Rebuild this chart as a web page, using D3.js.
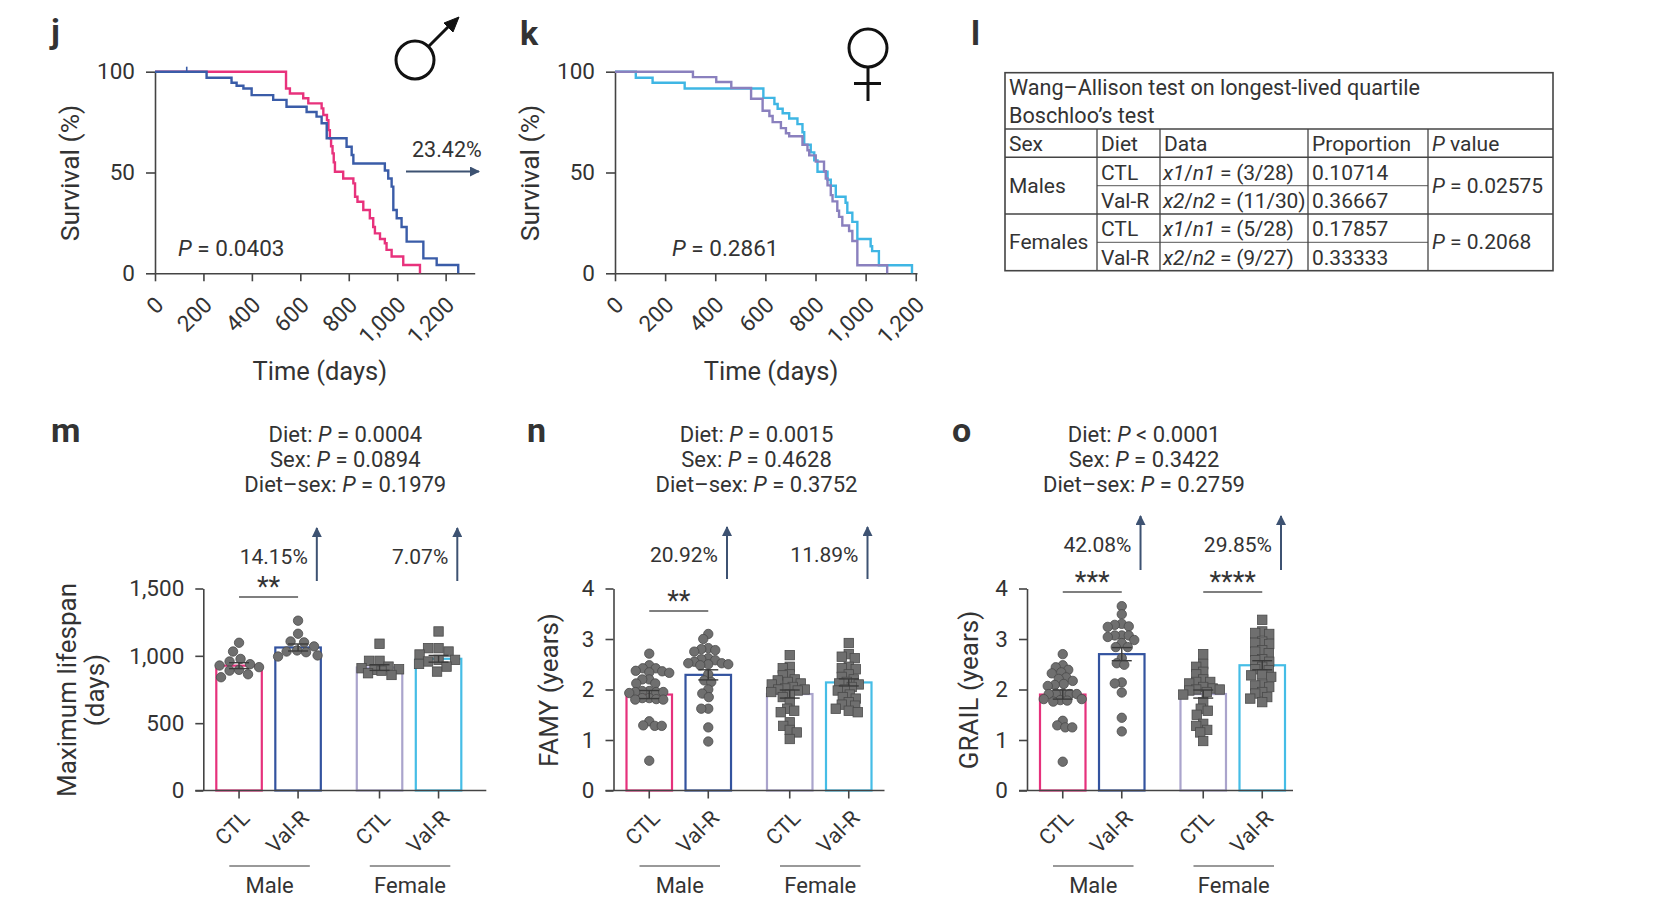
<!DOCTYPE html>
<html>
<head>
<meta charset="utf-8">
<script src="https://cdn.jsdelivr.net/npm/d3@7"></script>
<style>
  body { margin: 0; background: #fff; }
  text { font-family: Roboto, "Noto Sans", sans-serif; fill: #333; }
</style>
</head>
<body>
<script>
// ---------- data ----------
// survival curves: step points (day, % alive after the step)
var maleCtlDays  = [0, 541, 557, 612, 633, 688, 695, 710, 716, 722, 727, 733, 738, 743, 777, 819, 826, 836, 860, 887, 901, 908, 929, 949, 956, 977, 1025, 1094];
var maleCtlSurv  = [100, 91.7, 89.2, 86.8, 84.3, 81.8, 78.5, 76, 71, 67, 63, 59.5, 55, 50.4, 47, 44.6, 38, 35.5, 31.4, 27.3, 23, 19.8, 17, 14.9, 11.6, 8.3, 4.1, 0];
var maleValrDays = [0, 213, 316, 337, 365, 399, 488, 543, 626, 667, 688, 709, 791, 812, 819, 949, 963, 977, 984, 998, 1018, 1039, 1108, 1163, 1252];
var maleValrSurv = [100, 97, 94.5, 93, 91.7, 88.4, 86, 82.6, 80, 77.7, 74.4, 67, 62.8, 58.7, 54.5, 51, 47, 43, 31.4, 27.3, 23, 15.7, 7.4, 4.1, 0];
var maleValrCensor = [131];
var femCtlDays  = [0, 311, 404, 464, 543, 589, 616, 629, 662, 682, 695, 748, 768, 775, 801, 834, 841, 848, 861, 868, 887, 894, 907, 934, 947, 967, 1086];
var femCtlSurv  = [100, 97.3, 94.9, 91.9, 86.6, 80.6, 78, 75, 72, 69.5, 68, 63.8, 61, 58.5, 55.4, 50.6, 47, 43.6, 38.8, 35.7, 31, 28, 23.7, 21, 16, 4, 0];
var femValrDays = [0, 83, 150, 278, 592, 636, 649, 669, 695, 728, 748, 755, 781, 795, 808, 848, 861, 881, 920, 927, 947, 967, 1020, 1026, 1053, 1185];
var femValrSurv = [100, 97, 94.5, 91.7, 87, 84, 81.6, 79.4, 76.8, 74, 70, 63.8, 60, 56, 50.4, 46.4, 43.4, 38, 35, 30, 25.5, 17, 13.4, 11, 4, 0];
var survTicksX = [0, 200, 400, 600, 800, 1000, 1200];
var survTicksY = [0, 50, 100];

// table l
var tableTitle = ["Wang\u2013Allison test on longest-lived quartile", "Boschloo\u2019s test"];
var tableHead  = ["Sex", "Diet", "Data", "Proportion", "P value"];
var tableSex   = ["Males", "Females"];
var tableDiet  = ["CTL", "Val-R", "CTL", "Val-R"];
var tableData  = ["x1/n1 = (3/28)", "x2/n2 = (11/30)", "x1/n1 = (5/28)", "x2/n2 = (9/27)"];
var tableProp  = ["0.10714", "0.36667", "0.17857", "0.33333"];
var tablePval  = ["P = 0.02575", "P = 0.2068"];

// bar panels
var sexes = ["Male", "Female"];
var diets = ["CTL", "Val-R"];

var lifespanMaleCtl    = [977, 1032, 1097, 916, 928, 938, 958, 896, 841, 863, 890];
var lifespanMaleValr   = [1261, 1164, 1107, 1100, 1070, 1040, 1032, 1027, 1003, 995];
var lifespanFemaleCtl  = [1090, 963, 963, 920, 908, 900, 896, 890, 871, 858];
var lifespanFemaleValr = [1181, 1057, 1057, 1032, 1010, 970, 970, 958, 940, 920, 883];
var lifespanMean = [927, 1062, 913, 978];
var lifespanSem  = [22, 26, 21, 25];
var lifespanStats = ["Diet: P = 0.0004", "Sex: P = 0.0894", "Diet\u2013sex: P = 0.1979"];
var lifespanPct = ["14.15%", "7.07%"];
var lifespanTicks = [0, 500, 1000, 1500];

var famyMaleCtl    = [2.71, 2.48, 2.42, 2.42, 2.37, 2.36, 2.34, 2.33, 2.20, 2.20, 2.12, 2.12, 1.97, 1.97, 1.95, 1.95, 1.95, 1.93, 1.83, 1.83, 1.81, 1.80, 1.80, 1.37, 1.29, 1.28, 1.28, 0.59];
var famyMaleValr   = [3.10, 3.00, 2.82, 2.80, 2.78, 2.75, 2.62, 2.60, 2.58, 2.55, 2.52, 2.52, 2.50, 2.50, 2.48, 2.30, 2.18, 2.15, 2.00, 1.92, 1.85, 1.62, 1.62, 1.25, 0.97];
var famyFemaleCtl  = [2.68, 2.45, 2.42, 2.30, 2.28, 2.20, 2.18, 2.15, 2.12, 2.10, 2.05, 2.02, 2.00, 2.00, 1.98, 1.95, 1.90, 1.85, 1.75, 1.62, 1.58, 1.55, 1.35, 1.28, 1.20, 1.15, 1.02];
var famyFemaleValr = [2.92, 2.70, 2.65, 2.62, 2.45, 2.42, 2.40, 2.30, 2.25, 2.20, 2.15, 2.12, 2.10, 2.05, 2.00, 1.98, 1.90, 1.85, 1.82, 1.75, 1.70, 1.68, 1.62, 1.58, 1.55];
var famyMean = [1.90, 2.29, 1.91, 2.14];
var famySem  = [0.08, 0.10, 0.08, 0.07];
var famyStats = ["Diet: P = 0.0015", "Sex: P = 0.4628", "Diet\u2013sex: P = 0.3752"];
var famyPct = ["20.92%", "11.89%"];

var grailMaleCtl    = [2.70, 2.48, 2.44, 2.39, 2.34, 2.32, 2.24, 2.21, 2.17, 2.11, 2.09, 2.07, 1.92, 1.92, 1.91, 1.91, 1.91, 1.81, 1.81, 1.79, 1.78, 1.76, 1.38, 1.29, 1.25, 1.25, 0.57];
var grailMaleValr   = [3.65, 3.49, 3.30, 3.28, 3.25, 3.24, 3.07, 3.07, 3.07, 3.04, 2.98, 2.92, 2.84, 2.84, 2.62, 2.52, 2.49, 2.14, 2.12, 1.94, 1.44, 1.17];
var grailFemaleCtl  = [2.70, 2.50, 2.45, 2.35, 2.30, 2.20, 2.15, 2.15, 2.12, 2.05, 2.02, 2.00, 2.00, 1.98, 1.95, 1.90, 1.75, 1.62, 1.58, 1.50, 1.32, 1.28, 1.20, 1.15, 0.98];
var grailFemaleValr = [3.38, 3.15, 3.12, 3.10, 2.95, 2.92, 2.90, 2.78, 2.75, 2.72, 2.60, 2.58, 2.55, 2.45, 2.40, 2.38, 2.30, 2.28, 2.25, 2.10, 2.08, 2.05, 1.95, 1.92, 1.85, 1.82, 1.75];
var grailMean = [1.90, 2.70, 1.91, 2.48];
var grailSem  = [0.09, 0.13, 0.08, 0.09];
var grailStats = ["Diet: P < 0.0001", "Sex: P = 0.3422", "Diet\u2013sex: P = 0.2759"];
var grailPct = ["42.08%", "29.85%"];
var yearTicks = [0, 1, 2, 3, 4];

// colours for CTL male, Val-R male, CTL female, Val-R female
var groupColors = ["#e6317c", "#33539f", "#aaa4cc", "#45bde6"];
var inkColor = "#444";
var arrowColor = "#3d5272";

// ---------- helpers ----------
var svg = d3.select("body").append("svg")
  .attr("width", 1656)
  .attr("height", 912);

svg.append("defs").append("marker")
  .attr("id", "head")
  .attr("viewBox", "0 0 10 10")
  .attr("refX", 9).attr("refY", 5)
  .attr("markerWidth", 5).attr("markerHeight", 5)
  .attr("markerUnits", "strokeWidth")
  .attr("orient", "auto")
  .append("path")
    .attr("d", "M0,0 L10,5 L0,10 z")
    .attr("fill", arrowColor);

// writes a string into a text node, with P, x1, n1... in italics
function richText(sel, str) {
  str.split(/\b(x[12]|n[12]|P)\b/).forEach(function(part, i) {
    if (part === "") return;
    sel.append("tspan")
      .attr("font-style", i % 2 === 1 ? "italic" : null)
      .text(part);
  });
}

function styleAxis(g) {
  g.attr("font-family", null).attr("font-size", null);
  g.selectAll("path, line").attr("stroke", inkColor).attr("stroke-width", 1.6);
  g.selectAll("text").attr("fill", "#333").style("font-size", "22.5px");
}

function panelLabel(txt, x, y) {
  svg.append("text")
    .attr("x", x).attr("y", y)
    .style("font-size", "34px")
    .style("font-weight", "bold")
    .attr("fill", "#222")
    .text(txt);
}

// ---------- survival panels j and k ----------
function survivalPanel(opt) {
  var x = d3.scaleLinear().domain([0, opt.maxDay]).range([opt.x0, opt.x1]);
  var y = d3.scaleLinear().domain([0, 100]).range([273.3, 71.7]);
  var g = svg.append("g");

  g.append("g")
    .attr("transform", "translate(" + opt.x0 + ",0)")
    .call(d3.axisLeft(y).tickValues(survTicksY).tickSize(9).tickSizeOuter(0).tickPadding(11))
    .call(styleAxis);

  var xa = g.append("g")
    .attr("transform", "translate(0," + y(0) + ")")
    .call(d3.axisBottom(x).tickValues(survTicksX).tickFormat(d3.format(",")).tickSize(8).tickSizeOuter(0))
    .call(styleAxis);
  xa.selectAll("text")
    .attr("y", null).attr("dy", null)
    .attr("text-anchor", "end")
    .attr("transform", "translate(9.5,33) rotate(-45)");

  var line = d3.line()
    .x(function(d) { return x(d[0]); })
    .y(function(d) { return y(d[1]); })
    .curve(d3.curveStepAfter);

  opt.curves.forEach(function(c) {
    g.append("path")
      .datum(d3.zip(c.days, c.surv))
      .attr("d", line)
      .attr("fill", "none")
      .attr("stroke", c.color)
      .attr("stroke-width", 2.4);
    (c.censor || []).forEach(function(d) {
      g.append("line")
        .attr("x1", x(d)).attr("x2", x(d))
        .attr("y1", y(100)).attr("y2", y(100) - 5)
        .attr("stroke", c.color).attr("stroke-width", 1.6);
    });
  });

  // axis titles
  g.append("text")
    .attr("transform", "translate(" + opt.yTitleX + ",173) rotate(-90)")
    .attr("text-anchor", "middle")
    .style("font-size", "26.5px")
    .text("Survival (%)");
  g.append("text")
    .attr("x", (opt.x0 + opt.x1) / 2 + 5).attr("y", 380)
    .attr("text-anchor", "middle")
    .style("font-size", "25.5px")
    .text("Time (days)");

  g.append("text")
    .attr("x", opt.pX).attr("y", 256)
    .style("font-size", "22.5px")
    .call(richText, opt.pText);
  return g;
}

var gj = survivalPanel({
  x0: 155, x1: 474.7, maxDay: 1320, yTitleX: 79,
  pX: 178, pText: "P = 0.0403",
  curves: [
    { days: maleCtlDays, surv: maleCtlSurv, color: "#e8327c" },
    { days: maleValrDays, surv: maleValrSurv, color: "#3a5ca8", censor: maleValrCensor }
  ]
});
var gk = survivalPanel({
  x0: 615, x1: 917, maxDay: 1205, yTitleX: 539,
  pX: 672, pText: "P = 0.2861",
  curves: [
    { days: femValrDays, surv: femValrSurv, color: "#3fb6e4" },
    { days: femCtlDays, surv: femCtlSurv, color: "#8a80be" }
  ]
});

// 23.42% shift arrow on j
gj.append("text")
  .attr("x", 412).attr("y", 156.5)
  .style("font-size", "21.5px")
  .text("23.42%");
gj.append("line")
  .attr("x1", 406).attr("x2", 479)
  .attr("y1", 171.5).attr("y2", 171.5)
  .attr("stroke", arrowColor).attr("stroke-width", 2)
  .attr("marker-end", "url(#head)");

// sex symbols
var male = svg.append("g").attr("fill", "none").attr("stroke", "#111").attr("stroke-width", 3);
male.append("circle").attr("cx", 415).attr("cy", 60).attr("r", 19);
male.append("line").attr("x1", 428.5).attr("y1", 46.5).attr("x2", 451).attr("y2", 24);
male.append("path").attr("d", "M459,17 L444,23 L453,32 Z").attr("fill", "#111").attr("stroke-width", 1);

var female = svg.append("g").attr("fill", "none").attr("stroke", "#111").attr("stroke-width", 3);
female.append("circle").attr("cx", 868).attr("cy", 48).attr("r", 19);
female.append("line").attr("x1", 868).attr("y1", 67).attr("x2", 868).attr("y2", 101);
female.append("line").attr("x1", 854).attr("y1", 83.5).attr("x2", 881).attr("y2", 83.5);

panelLabel("j", 51, 43);
panelLabel("k", 520, 45);
panelLabel("l", 971, 45);

// ---------- table l ----------
var colX = [1005, 1097, 1160, 1308, 1428, 1553];
var rowY = [72.7, 129, 157.3, 185.7, 214, 242.3, 270.7];
var tbl = svg.append("g");
var tFont = "21px";

tbl.append("rect")
  .attr("x", colX[0]).attr("y", rowY[0])
  .attr("width", colX[5] - colX[0]).attr("height", rowY[6] - rowY[0])
  .attr("fill", "none").attr("stroke", inkColor).attr("stroke-width", 1.6);

// full-width rules
[rowY[1], rowY[2], rowY[4]].forEach(function(y) {
  tbl.append("line").attr("x1", colX[0]).attr("x2", colX[5]).attr("y1", y).attr("y2", y)
    .attr("stroke", inkColor).attr("stroke-width", 1.4);
});
// rules inside diet/data/proportion columns
[rowY[3], rowY[5]].forEach(function(y) {
  tbl.append("line").attr("x1", colX[1]).attr("x2", colX[4]).attr("y1", y).attr("y2", y)
    .attr("stroke", "#777").attr("stroke-width", 1.2);
});
// column rules
colX.slice(1, 5).forEach(function(x) {
  tbl.append("line").attr("x1", x).attr("x2", x).attr("y1", rowY[1]).attr("y2", rowY[6])
    .attr("stroke", inkColor).attr("stroke-width", 1.3);
});

tableTitle.forEach(function(t, i) {
  tbl.append("text").attr("x", colX[0] + 4).attr("y", 95 + i * 28)
    .style("font-size", "21.6px").text(t);
});
tableHead.forEach(function(t, i) {
  tbl.append("text").attr("x", colX[i] + 4).attr("y", rowY[2] - 6)
    .style("font-size", tFont).call(richText, t);
});
tableSex.forEach(function(t, i) {
  tbl.append("text").attr("x", colX[0] + 4).attr("y", rowY[2 + i * 2 + 1] + 7)
    .style("font-size", tFont).text(t);
});
tableDiet.forEach(function(t, i) {
  var base = rowY[3 + i] - 6;
  tbl.append("text").attr("x", colX[1] + 4).attr("y", base).style("font-size", tFont).text(t);
  tbl.append("text").attr("x", colX[2] + 3).attr("y", base).style("font-size", tFont)
    .style("letter-spacing", "-0.2px").call(richText, tableData[i]);
  tbl.append("text").attr("x", colX[3] + 4).attr("y", base).style("font-size", tFont).text(tableProp[i]);
});
tablePval.forEach(function(t, i) {
  tbl.append("text").attr("x", colX[4] + 4).attr("y", rowY[2 + i * 2 + 1] + 7)
    .style("font-size", tFont).call(richText, t);
});

// ---------- bar + scatter panels m, n, o ----------
// beeswarm kept inside +-maxOff: nearest free spot to the centre,
// or the least crowded spot when the row is full
function swarm(vals, y, cx, d, maxOff) {
  var placed = [];
  var offs = d3.range(-maxOff, maxOff + 0.25, 0.5)
    .sort(function(a, b) { return Math.abs(a) - Math.abs(b); });
  vals.slice().sort(function(a, b) { return b - a; }).forEach(function(v) {
    var py = y(v);
    var best = 0, bestGap = -1;
    for (var k = 0; k < offs.length; k++) {
      var px = cx + offs[k];
      var gap = placed.length ? d3.min(placed, function(p) {
        return Math.hypot(p.x - px, p.y - py);
      }) : Infinity;
      if (gap >= d) { best = offs[k]; break; }
      if (gap > bestGap + 0.5) { bestGap = gap; best = offs[k]; }
    }
    placed.push({ x: cx + best, y: py });
  });
  return placed;
}

function barPanel(opt) {
  var ax = opt.ax;
  var y = d3.scaleLinear().domain([0, opt.yMax]).range([790.5, 588.5]);
  var outer = d3.scaleBand().domain(sexes).range([ax + 13, ax + 258]).paddingInner(0.256);
  var inner = d3.scaleBand().domain(diets).range([0, outer.bandwidth()]).paddingInner(0.229);
  var g = svg.append("g");

  var cells = [];
  sexes.forEach(function(s, si) {
    diets.forEach(function(dt, di) {
      var i = si * 2 + di;
      var x = outer(s) + inner(dt);
      cells.push({ i: i, sex: s, diet: dt, x: x, cx: x + inner.bandwidth() / 2,
        mean: opt.mean[i], sem: opt.sem[i], pts: opt.pts[i] });
    });
  });

  // bars
  g.selectAll(".bar").data(cells).enter().append("rect")
    .attr("class", "bar")
    .attr("x", function(d) { return d.x; })
    .attr("y", function(d) { return y(d.mean); })
    .attr("width", inner.bandwidth())
    .attr("height", function(d) { return y(0) - y(d.mean); })
    .attr("fill", "#fff")
    .attr("stroke", function(d) { return groupColors[d.i]; })
    .attr("stroke-width", 2.2);

  // points: circles for males, squares for females
  cells.forEach(function(c) {
    var isMale = c.sex === "Male";
    var pos = swarm(c.pts, y, c.cx, opt.spread, 20);
    if (isMale) {
      g.selectAll(null).data(pos).enter().append("circle")
        .attr("cx", function(d) { return d.x; })
        .attr("cy", function(d) { return d.y; })
        .attr("r", 4.7)
        .attr("fill", "#6f6f6f").attr("stroke", "#4a4a4a").attr("stroke-width", 0.8);
    } else {
      g.selectAll(null).data(pos).enter().append("rect")
        .attr("x", function(d) { return d.x - 4.7; })
        .attr("y", function(d) { return d.y - 4.7; })
        .attr("width", 9.4).attr("height", 9.4)
        .attr("fill", "#6f6f6f").attr("stroke", "#4a4a4a").attr("stroke-width", 0.8);
    }
  });

  // SEM error bars
  cells.forEach(function(c) {
    var eb = g.append("g").attr("stroke", "#3a3a3a").attr("stroke-width", 1.4);
    eb.append("line").attr("x1", c.cx).attr("x2", c.cx)
      .attr("y1", y(c.mean - c.sem)).attr("y2", y(c.mean + c.sem));
    [c.mean - c.sem, c.mean + c.sem].forEach(function(v) {
      eb.append("line").attr("x1", c.cx - 10).attr("x2", c.cx + 10)
        .attr("y1", y(v)).attr("y2", y(v));
    });
  });

  // y axis
  g.append("g")
    .attr("transform", "translate(" + ax + ",0)")
    .call(d3.axisLeft(y).tickValues(opt.ticks).tickFormat(d3.format(",")).tickSize(8).tickSizeOuter(0).tickPadding(11))
    .call(styleAxis);

  // x axis line and ticks
  g.append("line")
    .attr("x1", ax - 8).attr("x2", ax + opt.xLen)
    .attr("y1", y(0)).attr("y2", y(0))
    .attr("stroke", inkColor).attr("stroke-width", 1.6);
  g.selectAll(".xt").data(cells).enter().append("line")
    .attr("x1", function(d) { return d.cx; }).attr("x2", function(d) { return d.cx; })
    .attr("y1", y(0)).attr("y2", y(0) + 8)
    .attr("stroke", inkColor).attr("stroke-width", 1.6);
  g.selectAll(".xl").data(cells).enter().append("text")
    .attr("text-anchor", "end")
    .attr("transform", function(d) { return "translate(" + (d.cx + 12) + "," + (y(0) + 29) + ") rotate(-45)"; })
    .style("font-size", "21.5px")
    .text(function(d) { return d.diet; });

  // sex group brackets
  sexes.forEach(function(s) {
    g.append("line")
      .attr("x1", outer(s) + 13).attr("x2", outer(s) + outer.bandwidth() - 11)
      .attr("y1", 866).attr("y2", 866)
      .attr("stroke", "#777").attr("stroke-width", 1.6);
    g.append("text")
      .attr("x", outer(s) + outer.bandwidth() / 2 + 1).attr("y", 893)
      .attr("text-anchor", "middle")
      .style("font-size", "22px")
      .text(s);
  });

  // y title
  var yt = g.append("text")
    .attr("transform", "translate(" + opt.titleX + ",690) rotate(-90)")
    .attr("text-anchor", "middle")
    .style("font-size", "26px");
  opt.title.forEach(function(t, i) {
    yt.append("tspan").attr("x", 0).attr("dy", i === 0 ? 0 : 28).text(t);
  });

  // two-way ANOVA stats
  opt.stats.forEach(function(t, i) {
    g.append("text")
      .attr("x", ax + opt.statsDx).attr("y", 442 + i * 25)
      .attr("text-anchor", "middle")
      .style("font-size", "22px")
      .call(richText, t);
  });

  // percent change arrows
  sexes.forEach(function(s, si) {
    var c = cells[si * 2 + 1];
    var axX = c.x + inner.bandwidth() - 4;
    g.append("line")
      .attr("x1", axX).attr("x2", axX)
      .attr("y1", opt.arrowY[1]).attr("y2", opt.arrowY[0])
      .attr("stroke", arrowColor).attr("stroke-width", 2)
      .attr("marker-end", "url(#head)");
    g.append("text")
      .attr("x", axX - 9).attr("y", opt.arrowY[2])
      .attr("text-anchor", "end")
      .style("font-size", "21px")
      .text(opt.pct[si]);
  });

  // significance bars
  opt.sig.forEach(function(sg) {
    var a = cells[sg.a], b = cells[sg.b];
    g.append("line")
      .attr("x1", a.cx).attr("x2", b.cx)
      .attr("y1", sg.y).attr("y2", sg.y)
      .attr("stroke", "#555").attr("stroke-width", 1.6);
    g.append("text")
      .attr("x", (a.cx + b.cx) / 2).attr("y", sg.y - 1)
      .attr("text-anchor", "middle")
      .style("font-size", "27px")
      .text(sg.label);
  });
  return g;
}

barPanel({
  ax: 203.3, xLen: 283, yMax: 1500, ticks: lifespanTicks, spread: 10.5,
  pts: [lifespanMaleCtl, lifespanMaleValr, lifespanFemaleCtl, lifespanFemaleValr],
  mean: lifespanMean, sem: lifespanSem,
  title: ["Maximum lifespan", "(days)"], titleX: 76,
  stats: lifespanStats, statsDx: 142,
  pct: lifespanPct, arrowY: [528, 581, 564],
  sig: [{ a: 0, b: 1, y: 597, label: "**" }]
});
barPanel({
  ax: 613.5, xLen: 271, yMax: 4, ticks: yearTicks, spread: 7,
  pts: [famyMaleCtl, famyMaleValr, famyFemaleCtl, famyFemaleValr],
  mean: famyMean, sem: famySem,
  title: ["FAMY (years)"], titleX: 558,
  stats: famyStats, statsDx: 143,
  pct: famyPct, arrowY: [527, 579, 562],
  sig: [{ a: 0, b: 1, y: 611, label: "**" }]
});
barPanel({
  ax: 1027, xLen: 266, yMax: 4, ticks: yearTicks, spread: 7,
  pts: [grailMaleCtl, grailMaleValr, grailFemaleCtl, grailFemaleValr],
  mean: grailMean, sem: grailSem,
  title: ["GRAIL (years)"], titleX: 978,
  stats: grailStats, statsDx: 117,
  pct: grailPct, arrowY: [516, 570, 552],
  sig: [{ a: 0, b: 1, y: 592, label: "***" }, { a: 2, b: 3, y: 592, label: "****" }]
});

panelLabel("m", 51, 442);
panelLabel("n", 527, 442);
panelLabel("o", 952, 442);
</script>
</body>
</html>
